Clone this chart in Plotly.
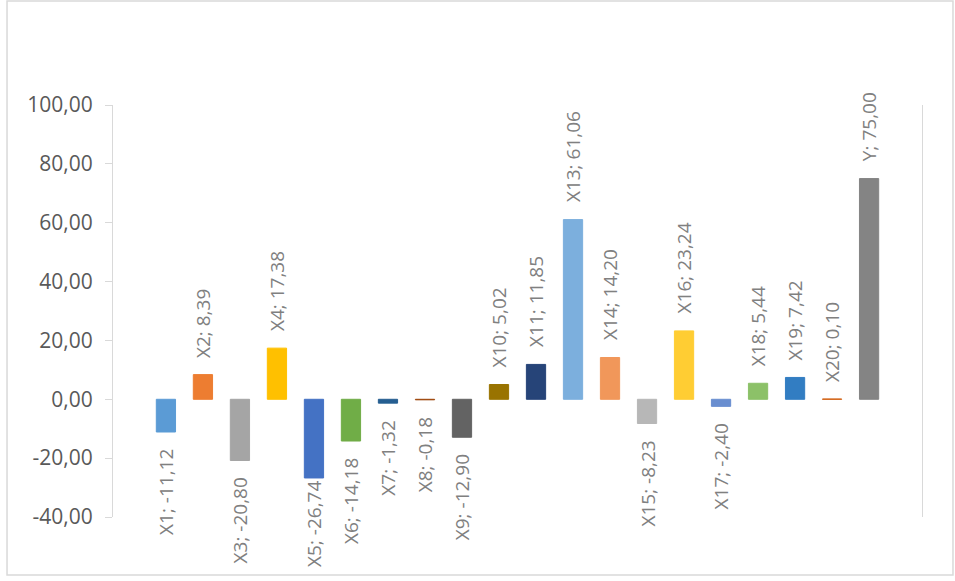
import plotly.graph_objects as go

categories = ["X1", "X2", "X3", "X4", "X5", "X6", "X7", "X8", "X9", "X10",
              "X11", "X13", "X14", "X15", "X16", "X17", "X18", "X19", "X20", "Y"]
values = [-11.12, 8.39, -20.80, 17.38, -26.74, -14.18, -1.32, -0.18, -12.90, 5.02,
          11.85, 61.06, 14.20, -8.23, 23.24, -2.40, 5.44, 7.42, 0.10, 75.00]
colors = ["#5B9BD5", "#ED7D31", "#A5A5A5", "#FFC000", "#4472C4", "#70AD47", "#255E91",
          "#9E480E", "#636363", "#997300", "#264478", "#7CAFDD", "#F1975A", "#B7B7B7",
          "#FFCD33", "#698ED0", "#8CC168", "#327DC2", "#D26012", "#848484"]
y_ticks = [-40, -20, 0, 20, 40, 60, 80, 100]

def fmt(v):
    return f"{v:.2f}".replace(".", ",")

labels = [f"{c}; {fmt(v)}" for c, v in zip(categories, values)]
tick_labels = [fmt(v) for v in y_ticks]
xpos = list(range(len(categories)))

fig = go.Figure()
fig.add_trace(go.Bar(
    x=xpos, y=values, marker=dict(color=colors, line=dict(width=1, color=colors)),
    width=0.52, showlegend=False, hoverinfo="skip",
))

FONT = "Open Sans, Noto Sans, sans-serif"
annotations = []
for x, v, t in zip(xpos, values, labels):
    pos = v >= 0
    shift = 15 if pos else -15
    if t.startswith("X5;"):
        shift = -1
    annotations.append(dict(
        x=x, y=v, xref="x", yref="y", text=t, showarrow=False, textangle=-90,
        yanchor="bottom" if pos else "top", xanchor="center", yshift=shift,
        font=dict(family=FONT, size=19, color="#808080"),
    ))

fig.update_layout(
    width=955, height=581,
    margin=dict(l=113, r=33, t=105, b=64),
    paper_bgcolor="white", plot_bgcolor="white",
    annotations=annotations,
    xaxis=dict(range=[-1.43, 20.43], showticklabels=False, showgrid=False,
               zeroline=False, showline=False, ticks=""),
    yaxis=dict(range=[-40, 100], tickvals=y_ticks, ticktext=tick_labels,
               showgrid=False, zeroline=False, showline=True, linecolor="#D9D9D9",
               linewidth=1, mirror=True, ticks="outside", ticklen=7, tickcolor="#D9D9D9",
               tickfont=dict(family=FONT, size=21, color="#595959"),
               ticklabelstandoff=8),
    shapes=[dict(type="rect", xref="paper", yref="paper",
                 x0=-0.131, x1=1.0383, y0=-0.1408, y1=1.2524,
                 line=dict(color="#D9D9D9", width=1.5), layer="below")],
)

fig.write_html(
    "out.html",
    config={"displayModeBar": False, "staticPlot": True},
    post_script="document.body.style.margin='0';document.body.style.padding='0';"
                "document.body.style.overflow='hidden';",
)
